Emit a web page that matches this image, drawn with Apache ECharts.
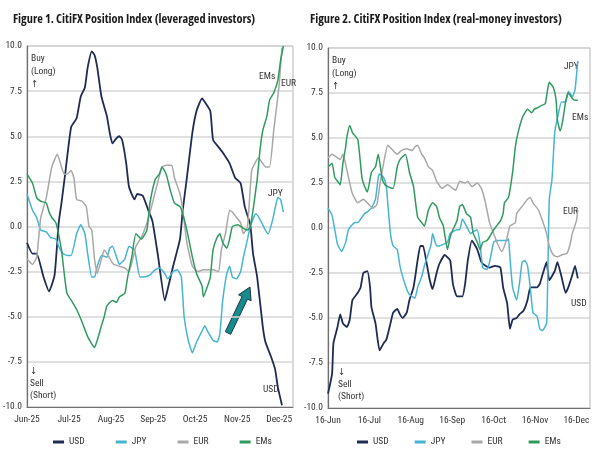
<!DOCTYPE html>
<html>
<head>
<meta charset="utf-8">
<script src="https://cdn.jsdelivr.net/npm/echarts@6/dist/echarts.min.js"></script>
<style>html,body{margin:0;padding:0;background:#fff}#c{width:600px;height:450px}</style>
</head>
<body>
<div id="c"></div>
<script>
// ---- tick labels ----
const leftMonths = ['Jun-25','Jul-25','Aug-25','Sep-25','Oct-25','Nov-25','Dec-25'];
const rightMonths = ['16-Jun','16-Jul','16-Aug','16-Sep','16-Oct','16-Nov','16-Dec'];
const seriesNames = ['USD','JPY','EUR','EMs'];
const title1 = 'Figure 1. CitiFX Position Index (leveraged investors)';
const title2 = 'Figure 2. CitiFX Position Index (real-money investors)';

// ---- Figure 1 (leveraged investors): [days since 1-Jun, index] ----
const levUSD = [[0,-0.9],[4,-1.5],[7,-1.5],[12,-2.8],[16,-3.6],[20,-2.7],[23,0.2],[25,1.3],[28,3.1],[32,5.5],[36,6.0],[39,7.2],[42,7.7],[44,8.8],[47,9.7],[49,9.5],[51,8.8],[54,7.2],[58,6.1],[60,5.2],[62,4.6],[65,4.9],[67,5.0],[69,4.8],[72,3.5],[74,2.2],[78,1.5],[80,1.8],[84,1.7],[88,0.9],[91,0.3],[95,-1.6],[100,-4.1],[102,-3.5],[106,-2.2],[111,-0.7],[113,0.9],[116,2.7],[120,5.2],[123,6.4],[127,7.1],[129,6.9],[133,6.4],[135,4.8],[139,4.4],[142,4.1],[147,3.5],[151,2.7],[155,2.4],[158,1.1],[162,0.1],[164,-1.5],[167,-2.8],[171,-5.5],[173,-6.4],[177,-7.2],[180,-7.9],[182,-8.9],[185,-9.9]];
const levJPY = [[0,1.8],[4,0.9],[7,0.5],[9,0.0],[10,-0.2],[14,-0.3],[17,-0.6],[21,-0.7],[23,-1.1],[26,-1.5],[29,-1.6],[32,-1.6],[34,-1.1],[36,-0.4],[39,0.1],[42,-0.4],[44,-1.5],[47,-2.8],[49,-2.8],[51,-2.2],[54,-1.6],[58,-1.7],[60,-1.2],[62,-1.1],[65,-1.7],[67,-2.1],[71,-1.8],[74,-1.1],[78,-1.3],[82,-2.8],[85,-2.8],[89,-2.7],[93,-2.4],[96,-2.3],[100,-2.6],[102,-2.9],[106,-2.5],[109,-2.4],[112,-2.8],[114,-5.0],[117,-6.3],[120,-7.0],[123,-6.4],[127,-5.8],[129,-5.5],[131,-5.8],[135,-6.3],[138,-6.4],[140,-5.9],[142,-4.1],[145,-2.6],[147,-2.2],[149,-2.8],[152,-2.9],[155,-2.5],[157,-1.7],[160,-0.7],[162,0.0],[166,0.7],[169,0.4],[173,-0.2],[175,-0.4],[178,0.3],[180,1.0],[182,1.6],[184,1.5],[186,0.8]];
const levEUR = [[0,-1.8],[4,-2.1],[7,-1.7],[9,-0.2],[10,0.5],[14,1.6],[18,3.3],[22,4.0],[25,3.3],[27,2.9],[29,2.9],[32,3.1],[34,2.7],[36,1.5],[40,1.4],[43,1.1],[45,0.0],[47,-0.2],[49,-1.8],[51,-2.6],[54,-1.8],[56,-1.3],[58,-1.5],[61,-1.9],[63,-2.1],[67,-2.2],[71,-2.3],[74,-2.5],[79,-1.1],[83,-0.6],[87,0.2],[90,1.0],[95,2.5],[98,3.3],[101,3.4],[105,3.4],[107,2.7],[111,1.8],[113,0.9],[116,-0.9],[120,-2.2],[124,-2.5],[128,-2.4],[131,-2.4],[135,-2.4],[139,-2.5],[141,-1.3],[144,-0.4],[147,0.9],[149,0.8],[152,0.5],[155,0.2],[157,-0.4],[160,0.0],[163,3.1],[166,3.6],[168,3.8],[171,3.5],[173,3.3],[176,3.3],[179,5.3],[182,7.2],[183,7.9],[185,9.9]];
const levEMs = [[0,2.9],[4,2.4],[7,1.6],[10,1.4],[14,1.3],[16,0.8],[18,0.5],[21,0.2],[25,-1.3],[27,-2.6],[29,-3.7],[33,-4.2],[36,-4.6],[40,-5.3],[44,-6.1],[47,-6.5],[49,-6.7],[51,-6.3],[54,-5.5],[56,-5.0],[58,-4.4],[62,-4.1],[65,-4.2],[67,-3.9],[71,-3.7],[73,-2.8],[76,-1.7],[79,-0.4],[83,-0.7],[87,-0.2],[89,1.2],[93,2.6],[96,2.9],[98,3.3],[101,2.9],[104,2.0],[107,1.3],[111,1.1],[113,0.7],[116,-0.2],[120,-1.7],[123,-2.6],[127,-3.3],[128,-3.9],[131,-3.3],[133,-2.8],[135,-1.3],[138,-0.6],[140,-0.4],[142,-0.9],[145,-1.2],[147,-0.7],[149,0.0],[153,0.1],[157,-0.1],[160,-0.2],[162,0.0],[164,0.9],[167,2.6],[169,4.2],[171,5.3],[174,6.1],[176,7.0],[179,7.4],[182,8.1],[184,9.2],[186,10.0]];

// ---- Figure 2 (real-money investors): [days since 16-Jun, index] ----
const rmUSD = [[0,-9.2],[3,-8.1],[4,-6.4],[7,-5.5],[9,-4.8],[11,-5.3],[14,-5.5],[16,-5.1],[18,-4.0],[21,-3.7],[24,-3.3],[26,-2.5],[29,-2.4],[31,-3.3],[32,-4.4],[35,-5.3],[38,-6.8],[41,-6.4],[43,-6.2],[46,-5.3],[48,-4.7],[51,-4.5],[53,-4.8],[55,-5.0],[58,-4.7],[60,-4.0],[63,-3.3],[66,-1.8],[68,-1.0],[70,-1.0],[73,-2.1],[75,-2.9],[77,-3.4],[80,-2.5],[82,-2.0],[86,-1.5],[90,-1.8],[92,-3.1],[95,-3.8],[99,-3.8],[101,-3.1],[103,-1.8],[106,-0.7],[110,-1.2],[113,-1.9],[116,-2.1],[119,-2.2],[123,-2.1],[127,-2.2],[129,-3.3],[132,-4.2],[134,-5.6],[136,-5.1],[139,-5.0],[141,-4.8],[144,-4.6],[147,-4.0],[149,-3.3],[151,-3.3],[154,-3.3],[156,-3.1],[158,-2.6],[161,-1.9],[163,-2.9],[167,-2.4],[169,-1.9],[172,-2.7],[175,-3.6],[177,-3.3],[180,-2.6],[182,-2.1],[184,-2.8]];
const rmJPY = [[0,1.1],[3,0.7],[5,-0.1],[7,-0.9],[10,-1.3],[13,-0.8],[15,-0.1],[18,0.2],[20,0.3],[22,0.3],[25,0.6],[27,0.8],[29,0.9],[32,1.1],[35,1.6],[37,2.8],[38,3.0],[41,2.8],[43,2.3],[44,1.4],[46,-0.3],[48,-1.0],[51,-1.2],[53,-2.1],[55,-2.7],[58,-3.4],[60,-3.7],[64,-3.9],[66,-3.3],[69,-2.7],[71,-2.1],[74,-1.4],[76,-0.9],[77,-0.3],[80,-1.0],[82,-1.0],[85,-0.9],[88,-0.8],[90,-0.3],[92,-0.2],[95,-0.1],[97,-0.1],[99,0.5],[102,0.1],[105,-0.3],[107,-0.2],[110,-0.1],[112,-0.9],[114,-2.2],[117,-2.3],[119,-1.9],[122,-0.8],[124,-0.7],[128,-0.7],[132,-0.7],[133,-0.6],[134,-1.6],[136,-3.3],[139,-4.0],[141,-3.1],[143,-1.9],[145,-1.8],[147,-2.1],[149,-3.3],[151,-4.7],[154,-4.9],[156,-5.6],[158,-5.7],[161,-5.3],[162,-2.2],[163,1.6],[165,2.7],[167,5.3],[169,6.1],[172,7.0],[175,7.0],[177,7.6],[180,7.3],[182,7.7],[184,9.3]];
const rmEUR = [[0,3.9],[3,4.1],[7,3.9],[9,3.8],[11,4.1],[14,3.2],[16,2.5],[18,1.9],[22,1.4],[26,1.6],[29,1.4],[33,1.1],[36,1.3],[38,2.3],[41,3.6],[44,4.6],[48,4.3],[51,4.1],[54,4.3],[58,4.4],[62,4.3],[64,4.5],[66,4.6],[69,4.1],[71,3.9],[74,3.4],[77,3.2],[80,2.6],[84,2.2],[88,2.4],[94,2.1],[97,2.6],[101,2.5],[103,2.6],[106,2.3],[110,2.5],[113,2.2],[116,1.4],[119,0.3],[122,-0.3],[125,-0.9],[128,-1.3],[130,-1.0],[132,-0.5],[134,0.1],[138,0.3],[139,0.8],[143,1.2],[147,1.6],[149,1.7],[151,1.4],[155,1.0],[158,0.4],[161,-0.3],[163,-1.0],[166,-1.5],[169,-1.6],[172,-1.5],[176,-1.4],[178,-1.0],[180,-0.3],[183,0.4],[184,1.0]];
const rmEMs = [[0,3.4],[3,3.6],[5,2.8],[7,2.6],[9,2.4],[11,3.6],[13,4.5],[14,5.1],[16,5.7],[18,5.3],[22,4.9],[25,2.8],[27,2.3],[29,2.0],[32,3.1],[35,3.4],[37,4.1],[40,2.7],[42,2.4],[44,2.3],[48,2.2],[51,3.4],[53,3.8],[57,4.1],[60,3.1],[63,2.3],[66,0.6],[69,0.3],[71,0.1],[74,1.0],[77,1.4],[80,1.2],[82,0.6],[85,0.1],[88,-1.2],[90,-0.5],[92,-0.1],[95,0.4],[97,1.2],[99,1.3],[102,0.8],[105,0.6],[107,-0.3],[110,-0.8],[112,-1.2],[114,-0.8],[117,-0.7],[119,-0.5],[122,-0.1],[124,0.1],[127,0.4],[129,0.8],[130,1.4],[133,1.7],[136,3.1],[138,4.5],[140,5.3],[143,6.1],[145,6.4],[147,6.6],[150,6.4],[152,6.6],[155,6.7],[157,6.8],[160,6.9],[162,7.8],[163,8.1],[166,7.8],[168,7.1],[169,6.0],[171,5.4],[173,6.0],[175,7.0],[177,7.5],[180,7.2],[182,7.1],[184,7.1]];

const colors = {USD:'#1f2b52', JPY:'#45b5d3', EUR:'#a8a8a8', EMs:'#2f9a5f'};
const FONT = '"Roboto Condensed","DejaVu Sans Condensed",sans-serif';
const TFONT = '"Open Sans","Roboto Condensed",sans-serif';
const TWEIGHT = 'bold condensed';
const STEP = 30.5, XMAX = 193;

// fit title font size to the width the reference titles take
const mctx = document.createElement('canvas').getContext('2d');
function fitSize(text, target){
  mctx.font = TWEIGHT + ' 20px ' + TFONT;
  const wd = mctx.measureText(text).width;
  return Math.min(15, Math.floor(20 * target / wd * 10) / 10);
}
const tSize1 = fitSize(title1, 243), tSize2 = fitSize(title2, 252);

function xAxisFor(gi, labels){
  return {type:'value', gridIndex:gi, min:0, max:XMAX, interval:STEP,
    splitLine:{show:false}, axisTick:{show:false},
    axisLine:{show:true, onZero:false, lineStyle:{color:'#707070', width:1.2}},
    axisLabel:{fontFamily:FONT, fontSize:9.5, color:'#333', margin:8,
      formatter:function(v){const i=Math.round(v/STEP); return (Math.abs(v-i*STEP)<0.01 && i<labels.length)?labels[i]:'';}}};
}
function yAxisFor(gi){
  return {type:'value', gridIndex:gi, min:-10, max:10, interval:2.5,
    axisLine:{show:true, lineStyle:{color:'#707070', width:1.2}}, axisTick:{show:false},
    splitLine:{show:true, lineStyle:{color:'#d6d6d6', width:1.5}},
    axisLabel:{fontFamily:FONT, fontSize:9.5, color:'#333', margin:5, formatter:v=>v.toFixed(1)}};
}
function lineSeries(name, data, gi){
  return {name:name, type:'line', xAxisIndex:gi, yAxisIndex:gi, data:data, showSymbol:false,
    smooth:0.15, clip:true, lineStyle:{color:colors[name], width:name==='USD'?1.8:1.5}, itemStyle:{color:colors[name]}};
}
function txt(x,y,s,opts){
  return {type:'text', x:x, y:y, style:Object.assign({text:s, fill:'#333', font:'9.5px '+FONT}, opts||{})};
}

const chart = echarts.init(document.getElementById('c'), null, {renderer:'canvas'});
chart.setOption({
  animation:false,
  title:[
    {text:title1, left:8, top:8,
      textStyle:{fontFamily:TFONT, fontWeight:TWEIGHT, fontSize:tSize1, color:'#1a1a1a'}},
    {text:title2, left:305, top:8,
      textStyle:{fontFamily:TFONT, fontWeight:TWEIGHT, fontSize:tSize2, color:'#1a1a1a'}}
  ],
  grid:[
    {left:27, right:307, top:46, bottom:43, show:true, borderColor:'#b5b5b5', borderWidth:1},
    {left:328, right:10, top:48, bottom:42, show:true, borderColor:'#b5b5b5', borderWidth:1}
  ],
  legend:[
    {data:seriesNames, left:48, top:432, itemGap:31, itemWidth:11, itemHeight:3, icon:'rect',
      textStyle:{fontFamily:FONT, fontSize:9.5, color:'#333'}, selectedMode:false},
    {data:seriesNames, left:352, top:432, itemGap:26, itemWidth:11, itemHeight:3, icon:'rect',
      textStyle:{fontFamily:FONT, fontSize:9.5, color:'#333'}, selectedMode:false}
  ],
  xAxis:[xAxisFor(0, leftMonths), xAxisFor(1, rightMonths)],
  yAxis:[yAxisFor(0), yAxisFor(1)],
  series:[
    lineSeries('USD', levUSD, 0), lineSeries('JPY', levJPY, 0), lineSeries('EUR', levEUR, 0), lineSeries('EMs', levEMs, 0),
    lineSeries('USD', rmUSD, 1), lineSeries('JPY', rmJPY, 1), lineSeries('EUR', rmEUR, 1), lineSeries('EMs', rmEMs, 1)
  ],
  graphic:[
    txt(31,52,'Buy\n(Long)\n\u2191',{lineHeight:13}),
    txt(30,366,'\u2193\nSell\n(Short)',{lineHeight:12}),
    txt(332,54,'Buy\n(Long)\n\u2191',{lineHeight:13}),
    txt(338,367,'\u2193\nSell\n(Short)',{lineHeight:12}),
    txt(259,72,'EMs'), txt(281,79,'EUR'), txt(268,189,'JPY'), txt(263,385,'USD'),
    txt(564,62,'JPY'), txt(572,113,'EMs'), txt(563,207,'EUR'), txt(571,299,'USD'),
    {type:'polygon', shape:{points:[[230.7,334.3],[247.5,299.1],[251.1,300.8],[250,287],[238.5,294.8],[242.1,296.5],[225.3,331.7]]},
      style:{fill:'#178c8c', stroke:'#1c3347', lineWidth:1}}
  ]
});
</script>
</body>
</html>
